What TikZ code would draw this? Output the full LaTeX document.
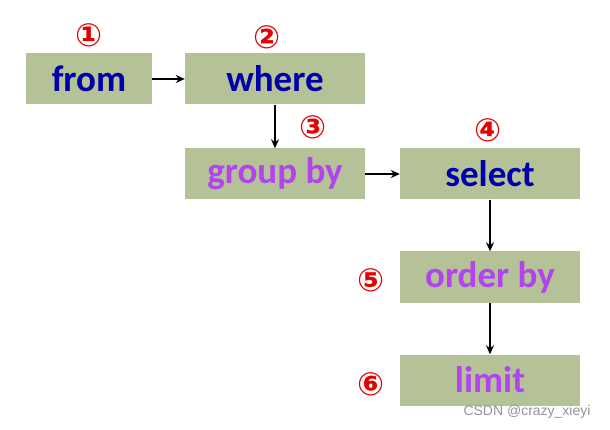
\documentclass[tikz,border=0pt]{standalone}
\usepackage{fontspec}
\setmainfont{Carlito}
\newfontfamily\circfont{DejaVu Sans}
\newfontfamily\markfont{Liberation Sans}
\usetikzlibrary{arrows.meta}
\definecolor{boxgreen}{RGB}{181,193,151}
\definecolor{kwblue}{RGB}{0,0,170}
\definecolor{kwpurple}{RGB}{178,68,240}
\definecolor{numred}{RGB}{228,0,0}

\begin{document}
\begin{tikzpicture}[x=1pt,y=-1pt,
        clause/.style={fill=boxgreen,minimum width=180pt,minimum height=51pt,inner sep=0pt,
            font=\bfseries\fontsize{37}{37}\selectfont},
        num/.style={text=numred,inner sep=0pt,font=\circfont\bfseries\fontsize{32}{32}\selectfont},
        flow/.style={-{Stealth[length=9pt,width=8pt]},line width=1.8pt}]
    \useasboundingbox (0,0) rectangle (610,430);

    % Row 1
    \node[clause,minimum width=126pt,text=kwblue] (from) at (89,79) {from};
    \node[clause,text=kwblue] (where) at (275,79) {where};

    % Row 2
    \node[clause,text=kwpurple] (group) at (275,174) {group by};
    \node[clause,text=kwblue] (select) at (490,174) {select};

    % Row 3 and 4
    \node[clause,text=kwpurple] (order) at (490,277) {order by};
    \node[clause,text=kwpurple] (limit) at (490,380) {limit};

    % Step numbers
    \node[num] (n1) at (89,35) {①};
    \node[num] (n2) at (267,37) {②};
    \node[num] (n3) at (313,127) {③};
    \node[num] (n4) at (488,130) {④};
    \node[num] (n5) at (371,280) {⑤};
    \node[num] (n6) at (371,384) {⑥};

    % Watermark
    \node[text=black!42,font=\markfont\fontsize{14}{14}\selectfont] (mark) at (527,412) {CSDN @crazy\_xieyi};

    % Edges
    \draw[flow] (from) -- (where);
    \draw[flow] (where) -- (group);
    \draw[flow] (group) -- (select);
    \draw[flow] (select) -- (order);
    \draw[flow] (order) -- (limit);
\end{tikzpicture}
\end{document}
